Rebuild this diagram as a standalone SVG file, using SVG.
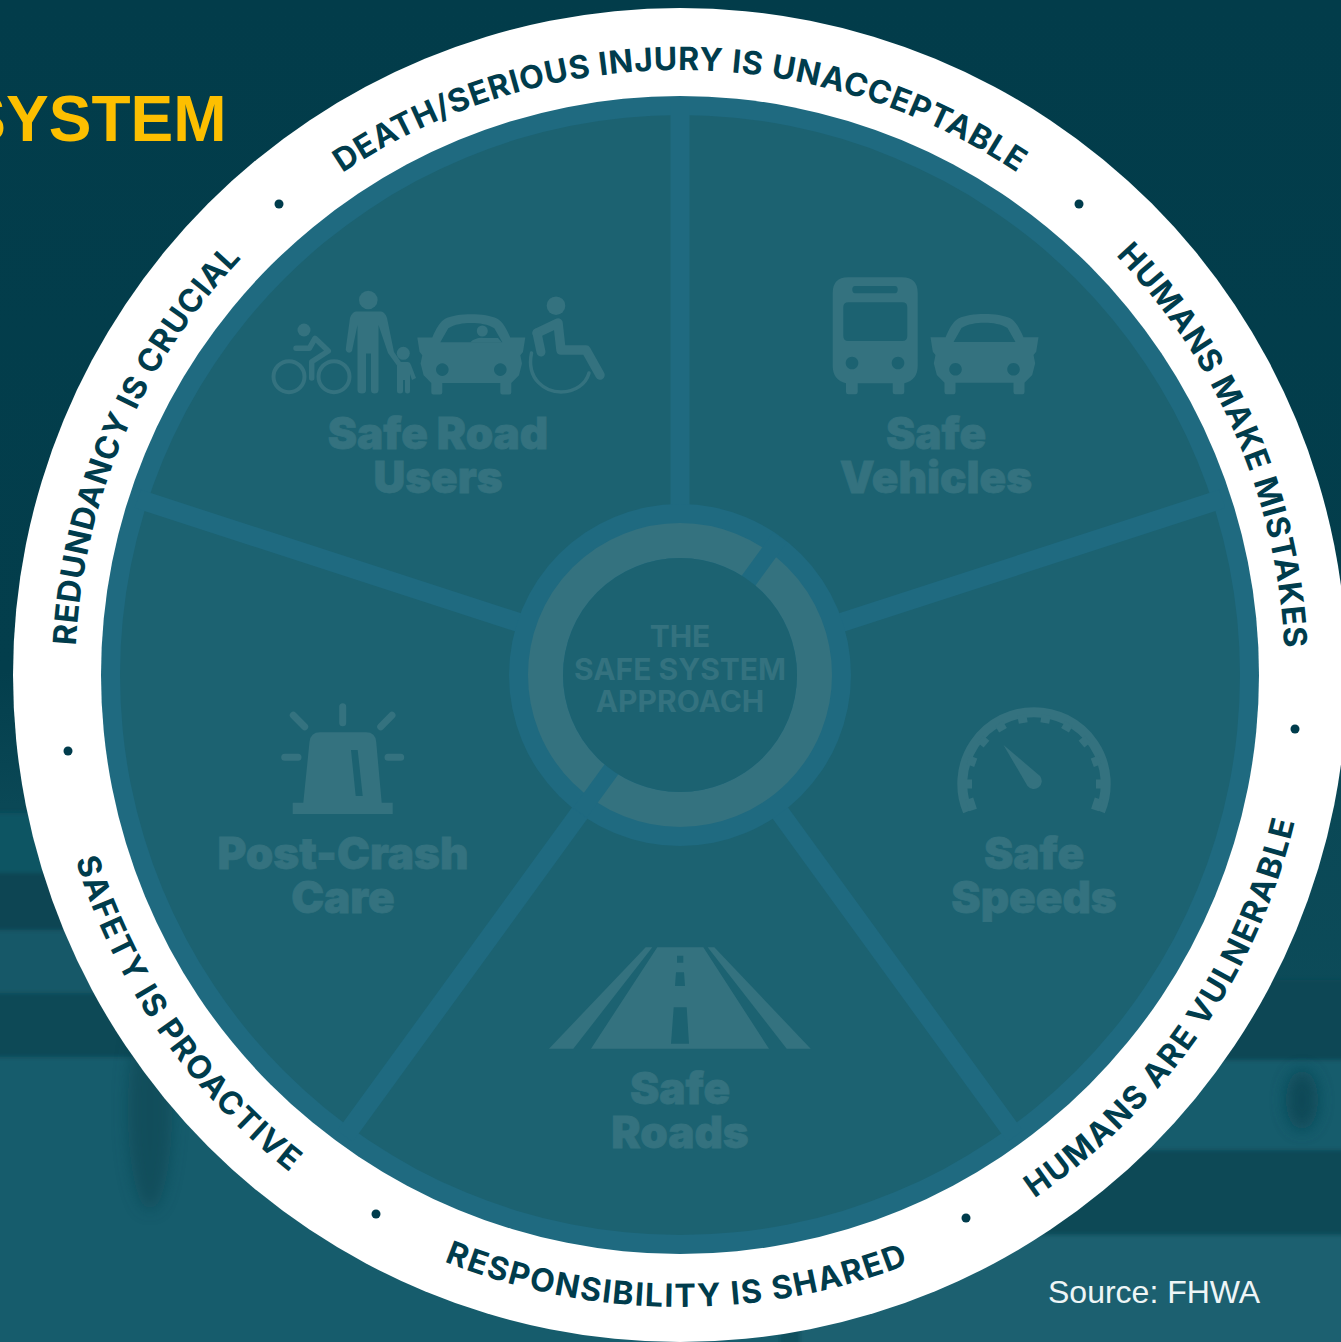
<svg xmlns="http://www.w3.org/2000/svg" xmlns:xlink="http://www.w3.org/1999/xlink" width="1341" height="1342" viewBox="0 0 1341 1342">
<style>
.ic{fill:#34727f}
.is{fill:none;stroke:#34727f;stroke-linecap:round}
.lb{font-family:Inter,"Liberation Sans",sans-serif;font-weight:900;font-size:44px;fill:#34727f;stroke:#34727f;stroke-width:.8;text-anchor:middle}
.ct{font-family:Inter,"Liberation Sans",sans-serif;font-weight:700;font-size:30px;fill:#34727f;text-anchor:middle}
.rt{font-family:Inter,"Liberation Sans",sans-serif;font-weight:700;font-size:32px;letter-spacing:.7px;fill:#003c4c}
.rb{font-family:Inter,"Liberation Sans",sans-serif;font-weight:700;font-size:32px;letter-spacing:1.5px;fill:#003c4c}
.dot{fill:#003c4c}
.sp{stroke:#1f6a80;stroke-width:19}
</style>
<defs>
<path id="top" d="M84.2,570 A605,605 0 0 1 1275.8,570"/>
<path id="bot" d="M57.6,784.7 A632,632 0 0 0 1302.4,784.7"/>
<linearGradient id="bg" x1="0" y1="0" x2="0" y2="1"><stop offset="0" stop-color="#023c4a"/><stop offset=".5" stop-color="#033e4c"/><stop offset=".6" stop-color="#0a4856"/><stop offset="1" stop-color="#10505e"/></linearGradient>
<filter id="bl" x="-10%" y="-20%" width="120%" height="140%"><feGaussianBlur stdDeviation="2"/></filter>
<filter id="bl2" x="-80%" y="-50%" width="260%" height="200%"><feGaussianBlur stdDeviation="8"/></filter>
<path id="car" fill-rule="evenodd" d="M0,0 C10,0 20,1.5 25.7,4.3 C31,7 35,14 39,23.3 L54,23.3 L51.7,37.7 L49,41 L50.7,49.3 L47.7,61 L40,68.7 L40,78 Q40,80.3 38,80.3 L31,80.3 Q29,80.3 29,78 L29,68.7 L-29,68.7 L-29,78 Q-29,80.3 -31,80.3 L-38,80.3 Q-40,80.3 -40,78 L-40,68.7 L-47.7,61 L-50.7,49.3 L-49,41 L-51.7,37.7 L-54,23.3 L-39,23.3 C-35,14 -31,7 -25.7,4.3 C-20,1.5 -10,0 0,0 Z M-31,28 L-23,14 C-17,10 -8,8.7 0,8.7 C8,8.7 17,10 23,14 L31,28 Z M-29,49 a6.3,6.3 0 1 0 0.01,0 Z M29,49 a6.3,6.3 0 1 0 0.01,0 Z"/>
</defs>
<g id="background">
<rect width="1341" height="1342" fill="url(#bg)"/>
<g filter="url(#bl)">
<rect x="-20" y="813" width="420" height="60" fill="#0f5563"/>
<rect x="-20" y="873" width="420" height="57" fill="#0a4553"/>
<rect x="-20" y="930" width="520" height="63" fill="#155868"/>
<rect x="-20" y="993" width="620" height="64" fill="#104a56"/>
<rect x="-20" y="1057" width="800" height="300" fill="#195c6c"/>
<rect x="1000" y="980" width="360" height="80" fill="#0b4654"/>
<rect x="950" y="1060" width="410" height="90" fill="#175c6c"/>
<rect x="850" y="1150" width="510" height="85" fill="#104a57"/>
<rect x="800" y="1235" width="560" height="120" fill="#1c6070"/>
</g>
<ellipse cx="150" cy="1110" rx="22" ry="100" fill="#0f3f4c" opacity=".5" filter="url(#bl2)"/>
<ellipse cx="1302" cy="1100" rx="16" ry="30" fill="#0c4654" opacity=".9" filter="url(#bl2)"/>
</g>
<text id="title" x="226.5" y="141" font-family="'Liberation Sans',Arial,sans-serif" font-weight="700" font-size="64" fill="#fdbf00" text-anchor="end">SYSTEM</text>
<g id="wheel">
<circle cx="680" cy="675" r="667" fill="#fff"/>
<circle cx="680" cy="675" r="579" fill="#1f6a80"/>
<circle cx="680" cy="675" r="560" fill="#1c6271"/>
</g>
<g id="connectors">
<line class="sp" x1="680" y1="675" x2="680" y2="105"/>
<line class="sp" x1="680" y1="675" x2="680" y2="105" transform="rotate(72 680 675)"/>
<line class="sp" x1="680" y1="675" x2="680" y2="105" transform="rotate(144 680 675)"/>
<line class="sp" x1="680" y1="675" x2="680" y2="105" transform="rotate(216 680 675)"/>
<line class="sp" x1="680" y1="675" x2="680" y2="105" transform="rotate(288 680 675)"/>
</g>
<g id="ring-labels">
<text class="rt"><textPath href="#top" xlink:href="#top" startOffset="50%" text-anchor="middle">DEATH/SERIOUS INJURY IS UNACCEPTABLE</textPath></text>
<text class="rt" transform="rotate(66.8 680 675)"><textPath href="#top" xlink:href="#top" startOffset="50%" text-anchor="middle">HUMANS MAKE MISTAKES</textPath></text>
<text class="rt" transform="rotate(-66.8 680 675)"><textPath href="#top" xlink:href="#top" startOffset="50%" text-anchor="middle">REDUNDANCY IS CRUCIAL</textPath></text>
<text class="rb" transform="rotate(.3 680 675)"><textPath href="#bot" xlink:href="#bot" startOffset="50%" text-anchor="middle">RESPONSIBILITY IS SHARED</textPath></text>
<text class="rb" transform="rotate(-55.4 680 675)"><textPath href="#bot" xlink:href="#bot" startOffset="50%" text-anchor="middle">HUMANS ARE VULNERABLE</textPath></text>
<text class="rb" transform="rotate(55.5 680 675)"><textPath href="#bot" xlink:href="#bot" startOffset="50%" text-anchor="middle">SAFETY IS PROACTIVE</textPath></text>
<circle class="dot" cx="279" cy="204" r="4.5"/><circle class="dot" cx="1079" cy="204" r="4.5"/><circle class="dot" cx="1295" cy="729" r="4.5"/><circle class="dot" cx="966" cy="1218" r="4.5"/><circle class="dot" cx="376" cy="1214" r="4.5"/><circle class="dot" cx="68" cy="751" r="4.5"/>
</g>
<g id="center">
<circle cx="680" cy="675" r="171" fill="#1f6a80"/>
<circle cx="680" cy="675" r="134.5" fill="none" stroke="#34727f" stroke-width="35"/>
<line x1="680" y1="505" x2="680" y2="845" stroke="#1f6a80" stroke-width="17" transform="rotate(36 680 675)"/>
<circle cx="680" cy="675" r="117" fill="#1c6271"/>
<text class="ct" x="680" y="647">THE</text>
<text class="ct" x="680" y="680">SAFE SYSTEM</text>
<text class="ct" x="680" y="711.5">APPROACH</text>
</g>
<g id="safe-road-users">
<g class="is" stroke-width="4"><circle cx="289" cy="376.7" r="15.5"/><circle cx="334" cy="376.7" r="15.5"/></g>
<circle class="ic" cx="304" cy="330" r="6.5"/>
<path class="is" stroke-width="5.5" stroke-linejoin="round" d="M296,348.3 L309.3,348.3 L315,338.3 L328.3,351 L311.7,361.7 L311.7,378"/>
<circle class="ic" cx="368.3" cy="300" r="9.3"/>
<path class="ic" d="M356,311.5 L381,311.5 Q385,312 387,318 L394,352 L405,368 L401,371 L388,353 L378.5,325 L378.5,390 Q378.5,393.5 374.5,393.5 Q371,393.5 371,390 L371,353.5 L366,353.5 L366,390 Q366,393.5 362,393.5 Q357.5,393.5 357.5,390 L357.5,325 L352,351 Q350,354 347,352 Q345,350 346,347 L350,318 Q352,312 356,311.5 Z"/>
<circle class="ic" cx="403.3" cy="353.3" r="6.5"/>
<path class="ic" d="M398,362 L408,362 Q410,362 411,365 L416,378 L412,380 L410,374 L410,391 Q410,393.5 407.5,393.5 Q405,393.5 405,391 L405,380 L403,380 L403,391 Q403,393.5 400,393.5 Q397,393.5 397,391 L397,366 Z"/>
<use href="#car" xlink:href="#car" x="471.3" y="314.3" class="ic"/>
<circle class="ic" cx="482.3" cy="331" r="5.5"/>
<path class="ic" d="M470,342.5 Q476,337 484,338 L498,338 L502,342.5 Z"/>
<circle class="ic" cx="556" cy="305.7" r="9.3"/>
<path class="is" stroke-width="9.5" stroke-linejoin="round" d="M537,333 L558,323 L561,350 L586,350 L600,375"/>
<path class="is" stroke-width="9" d="M537,333 L541,352"/>
<path class="is" stroke-width="3.5" d="M531.5,353 C526,380 546,392 561,392 C575,392 586,384 589,373"/>
<text class="lb" x="438" y="449">Safe Road</text>
<text class="lb" x="438" y="493">Users</text>
</g>
<g id="safe-vehicles">
<path class="ic" fill-rule="evenodd" d="M848,277.3 L902,277.3 Q917.7,277.3 917.7,293 L917.7,366 Q917.7,380 904.3,383.3 L904.3,392 Q904.3,394.3 902,394.3 L895,394.3 Q892.7,394.3 892.7,392 L892.7,383.3 L857.7,383.3 L857.7,392 Q857.7,394.3 855.4,394.3 L848.3,394.3 Q846,394.3 846,392 L846,383.3 Q832.7,380 832.7,366 L832.7,293 Q832.7,277.3 848,277.3 Z M855,286 Q852.3,286 852.3,289.6 Q852.3,293.3 855,293.3 L895,293.3 Q897.7,293.3 897.7,289.6 Q897.7,286 895,286 Z M848.3,302.3 Q843.3,302.3 843.3,307.3 L843.3,336 Q843.3,341 848.3,341 L902.3,341 Q907.3,341 907.3,336 L907.3,307.3 Q907.3,302.3 902.3,302.3 Z M852,356.7 a6.3,6.3 0 1 0 0.01,0 Z M898,356.7 a6.3,6.3 0 1 0 0.01,0 Z"/>
<use href="#car" xlink:href="#car" x="984.5" y="314" class="ic"/>
<text class="lb" x="936" y="449">Safe</text>
<text class="lb" x="936" y="493">Vehicles</text>
</g>
<g id="safe-speeds">
<path fill="none" stroke="#34727f" stroke-width="10" d="M967.8,811.4 A71.7,71.7 0 1 1 1100.2,811.4"/>
<g stroke="#34727f" stroke-width="9">
<line x1="1034" y1="722" x2="1034" y2="714" transform="rotate(-10 1034 784)"/><line x1="1034" y1="722" x2="1034" y2="714" transform="rotate(10 1034 784)"/>
<line x1="1034" y1="722" x2="1034" y2="714" transform="rotate(-30 1034 784)"/><line x1="1034" y1="722" x2="1034" y2="714" transform="rotate(30 1034 784)"/>
<line x1="1034" y1="722" x2="1034" y2="714" transform="rotate(-50 1034 784)"/><line x1="1034" y1="722" x2="1034" y2="714" transform="rotate(50 1034 784)"/>
<line x1="1034" y1="722" x2="1034" y2="714" transform="rotate(-70 1034 784)"/><line x1="1034" y1="722" x2="1034" y2="714" transform="rotate(70 1034 784)"/>
<line x1="1034" y1="722" x2="1034" y2="714" transform="rotate(-90 1034 784)"/><line x1="1034" y1="722" x2="1034" y2="714" transform="rotate(90 1034 784)"/>
<line x1="1034" y1="722" x2="1034" y2="714" stroke-width="12" transform="rotate(-108 1034 784)"/><line x1="1034" y1="722" x2="1034" y2="714" stroke-width="12" transform="rotate(108 1034 784)"/>
</g>
<path class="ic" d="M1003.5,745 L1040,776 A7.5,7.5 0 0 1 1027.5,786 Z"/>
<text class="lb" x="1034" y="869">Safe</text>
<text class="lb" x="1034" y="913">Speeds</text>
</g>
<g id="safe-roads">
<path class="ic" fill-rule="evenodd" d="M657.3,947.3 L703.3,947.3 L769,1048.7 L591,1048.7 Z M677,955.7 L677,962.7 L683.3,962.7 L683.3,955.7 Z M676,972.3 L675,986 L685,986 L684,972.3 Z M673.7,1007.3 L671,1043.7 L689,1043.7 L686.7,1007.3 Z"/>
<path class="ic" d="M645.7,947.3 L652.3,947.3 L573.3,1048.7 L549,1048.7 Z"/>
<path class="ic" d="M707.7,947.3 L714.3,947.3 L810.7,1048.7 L786.7,1048.7 Z"/>
<text class="lb" x="680" y="1104">Safe</text>
<text class="lb" x="680" y="1148">Roads</text>
</g>
<g id="post-crash-care">
<path class="ic" d="M292.7,802.7 L303.3,802.7 L309.5,742 Q310.5,732.3 320,732.3 L366,732.3 Q375.5,732.3 376.2,742 L381.7,802.7 L392.7,802.7 L392.7,814 L292.7,814 Z M351,750 L355.7,796 L362.7,796 L357.7,750 Z" fill-rule="evenodd"/>
<g class="is" stroke-width="7">
<path d="M342.7,706.7 V722.7 M293.3,715.3 L304.7,726.7 M392,715.3 L380.7,726.7 M284.7,757.3 H298 M388,757.3 H400.7"/>
</g>
<text class="lb" x="343" y="869">Post-Crash</text>
<text class="lb" x="343" y="913">Care</text>
</g>
<text id="source" x="1048" y="1303" font-family="'Liberation Sans',Arial,sans-serif" font-size="32" fill="#eef5f6">Source: FHWA</text>
</svg>
